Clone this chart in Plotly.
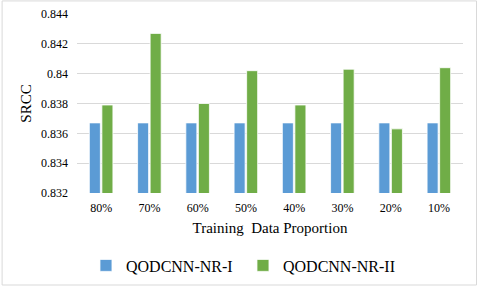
import plotly.graph_objects as go

categories = ["80%", "70%", "60%", "50%", "40%", "30%", "20%", "10%"]
series1_name = "QODCNN-NR-I"
series2_name = "QODCNN-NR-II"
series1 = [0.8367, 0.8367, 0.8367, 0.8367, 0.8367, 0.8367, 0.8367, 0.8367]
series2 = [0.8379, 0.8427, 0.8380, 0.8402, 0.8379, 0.8403, 0.8363, 0.8404]
y_ticks = [0.832, 0.834, 0.836, 0.838, 0.84, 0.842, 0.844]
y_tick_text = ["0.832", "0.834", "0.836", "0.838", "0.84", "0.842", "0.844"]

font_family = "Liberation Serif"

fig = go.Figure()
fig.add_trace(go.Bar(x=categories, y=series1, name=series1_name,
                     marker=dict(color="#5B9BD5", line=dict(color="#ffffff", width=0.8))))
fig.add_trace(go.Bar(x=categories, y=series2, name=series2_name,
                     marker=dict(color="#70AD47", line=dict(color="#ffffff", width=0.8))))

fig.update_layout(
    width=479, height=287,
    margin=dict(l=77, r=16, t=14, b=94, autoexpand=False),
    paper_bgcolor="white", plot_bgcolor="white",
    font=dict(family=font_family, color="#000000", size=12),
    barmode="group", bargap=0.48, bargroupgap=0.12,
    showlegend=True,
    legend=dict(orientation="h", x=0.43, xanchor="center", y=-0.31, yanchor="top",
                font=dict(family=font_family, size=16), itemwidth=30,
                entrywidthmode="pixels", entrywidth=112),
    shapes=[dict(type="rect", xref="paper", yref="paper", x0=-0.194, x1=1.035, y0=-0.514, y1=1.073,
                 line=dict(color="#D9D9D9", width=1), fillcolor="rgba(0,0,0,0)", layer="below")],
)
fig.update_xaxes(showgrid=False, showline=False, ticks="", tickfont=dict(family=font_family, size=12),
                 ticklabelstandoff=6,
                 title=dict(text="Training  Data Proportion", font=dict(family=font_family, size=15), standoff=8))
fig.update_yaxes(range=[0.832, 0.844], tickvals=y_ticks, ticktext=y_tick_text,
                 showgrid=True, gridcolor="#D9D9D9", gridwidth=1, zeroline=False,
                 showline=False, ticks="", tickfont=dict(family=font_family, size=12), ticklabelstandoff=8,
                 title=dict(text="SRCC", font=dict(family=font_family, size=15), standoff=5))

fig.write_html("out.html", config={"displayModeBar": False},
               post_script="document.body.style.margin='0px';")
